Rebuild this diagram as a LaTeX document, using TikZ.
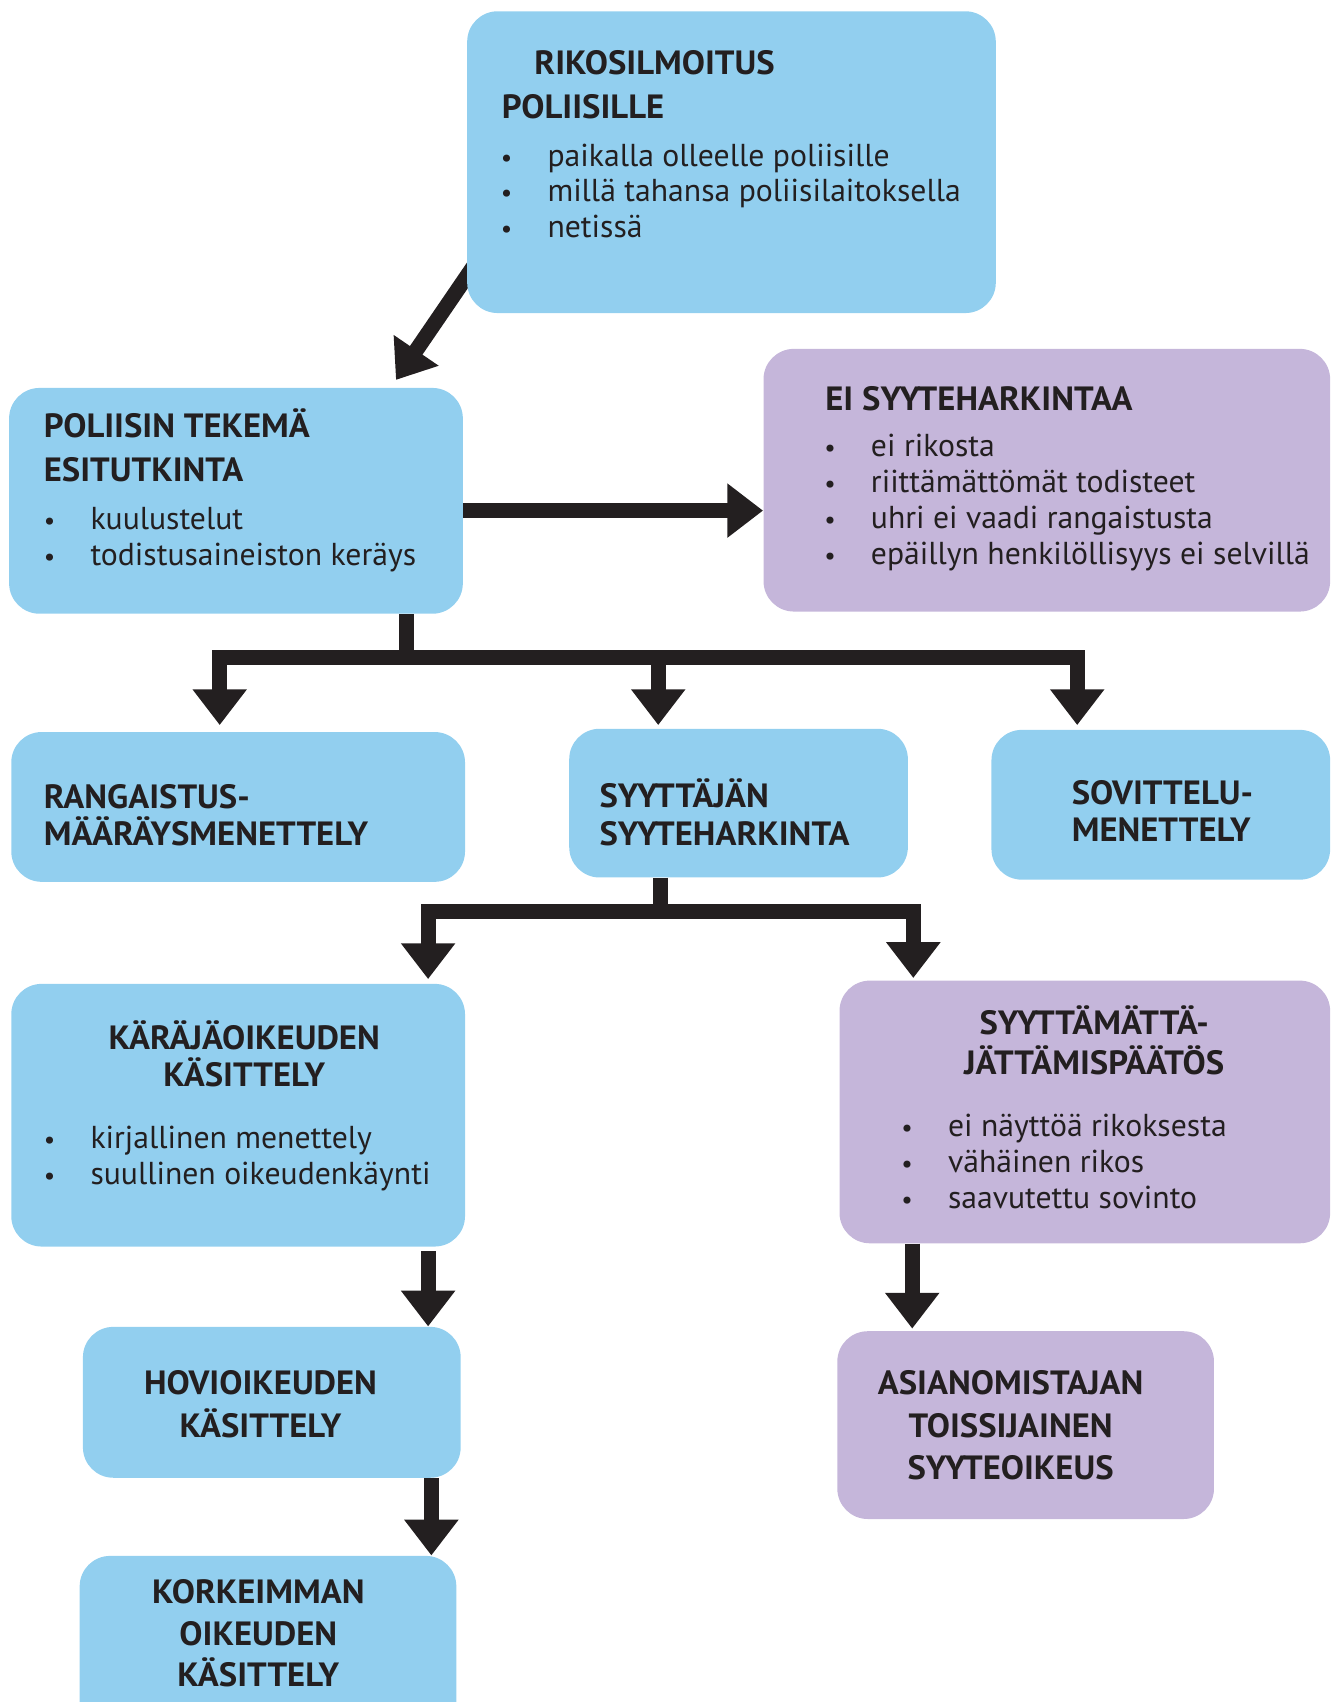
\documentclass[tikz,border=0pt]{standalone}
\usepackage{fontspec}
\setmainfont{PT Sans}
\newfontfamily\headfamily[FakeStretch=1.03]{PT Sans}
\usepackage{tikz}
\usetikzlibrary{arrows.meta,backgrounds}

\definecolor{boxblue}{HTML}{92CFEF}
\definecolor{boxlilac}{HTML}{C5B6DA}
\definecolor{inkblack}{HTML}{231F20}

\newcommand{\headfont}{\headfamily\bfseries\fontsize{15.5}{18}\selectfont}
\newcommand{\itemfont}{\fontsize{14.6}{17}\selectfont}
\newcommand{\dotitem}{\makebox[21.5pt][l]{\scalebox{0.8}{\textbullet}}}

\begin{document}
\begin{tikzpicture}[
                    x=0.5pt, y=-0.5pt,
                    blue box/.style={
                        rectangle,
                        rounded corners=14pt,
                        fill=boxblue,
                        inner sep=0pt,
                        anchor=north west
                    },
                    lilac box/.style={blue box, fill=boxlilac},
                    head/.style={font=\headfont, text=inkblack, inner sep=0pt, anchor=base west},
                    head mid/.style={head, anchor=base},
                    item/.style={font=\itemfont, text=inkblack, inner sep=0pt, anchor=base west},
                    flow/.style={draw=inkblack, line width=7pt,
                        -{Triangle[width=24pt,length=16.5pt]}}
                ]
    \useasboundingbox (0,0) rectangle (1230,1568);
    \clip (0,0) rectangle (1230,1568);

    % laatikot
    \node[blue box, minimum width=243.5pt, minimum height=139pt] (rikos) at (430,10) {};
    \node[blue box, minimum width=209pt, minimum height=104pt] (esitutk) at (8,357) {};
    \node[lilac box, minimum width=261pt, minimum height=121pt] (eisyyte) at (703,321) {};
    \node[blue box, minimum width=209pt, minimum height=69pt] (rangaistus) at (10,674) {};
    \node[blue box, minimum width=156pt, minimum height=68.5pt] (syyttajan) at (524,671) {};
    \node[blue box, minimum width=156pt, minimum height=69pt] (sovittelu) at (913,672) {};
    \node[blue box, minimum width=209pt, minimum height=121pt] (karaja) at (10,906) {};
    \node[lilac box, minimum width=226pt, minimum height=121pt] (syyttamatta) at (773,903) {};
    \node[blue box, minimum width=174pt, minimum height=69.5pt] (hovi) at (76,1222) {};
    \node[lilac box, minimum width=173.5pt, minimum height=86.5pt] (asianom) at (771,1226) {};
    \node[blue box, minimum width=173.5pt, minimum height=100pt] (korkein) at (73,1433) {};

    % tekstit
    \node[head] (rikos-t1) at (492,69) {RIKOSILMOITUS};
    \node[head] (rikos-t2) at (462,109) {POLIISILLE};
    \node[item] (rikos-i1) at (461,153) {\dotitem paikalla olleelle poliisille};
    \node[item] (rikos-i2) at (461,186) {\dotitem millä tahansa poliisilaitoksella};
    \node[item] (rikos-i3) at (461,219) {\dotitem netissä};

    \node[head] (esitutk-t1) at (40,403) {POLIISIN TEKEMÄ};
    \node[head] (esitutk-t2) at (40,444) {ESITUTKINTA};
    \node[item] (esitutk-i1) at (40,488) {\dotitem kuulustelut};
    \node[item] (esitutk-i2) at (40,521) {\dotitem todistusaineiston keräys};

    \node[head] (eisyyte-t1) at (760,378) {EI SYYTEHARKINTAA};
    \node[item] (eisyyte-i1) at (759,421) {\dotitem ei rikosta};
    \node[item] (eisyyte-i2) at (759,454) {\dotitem riittämättömät todisteet};
    \node[item] (eisyyte-i3) at (759,487) {\dotitem uhri ei vaadi rangaistusta};
    \node[item] (eisyyte-i4) at (759,520) {\dotitem epäillyn henkilöllisyys ei selvillä};

    \node[head] (rangaistus-t1) at (40,745) {RANGAISTUS-};
    \node[head] (rangaistus-t2) at (40,779) {MÄÄRÄYSMENETTELY};

    \node[head] (syyttajan-t1) at (552,744) {SYYTTÄJÄN};
    \node[head] (syyttajan-t2) at (552,779) {SYYTEHARKINTA};

    \node[head] (sovittelu-t1) at (987,741) {SOVITTELU-};
    \node[head] (sovittelu-t2) at (987,775) {MENETTELY};

    \node[head mid] (karaja-t1) at (225,967) {KÄRÄJÄOIKEUDEN};
    \node[head mid] (karaja-t2) at (225,1001) {KÄSITTELY};
    \node[item] (karaja-i1) at (40,1058) {\dotitem kirjallinen menettely};
    \node[item] (karaja-i2) at (40,1091) {\dotitem suullinen oikeudenkäynti};

    \node[head mid] (syyttamatta-t1) at (1008,953) {SYYTTÄMÄTTÄ-};
    \node[head mid] (syyttamatta-t2) at (1008,990) {JÄTTÄMISPÄÄTÖS};
    \node[item] (syyttamatta-i1) at (830,1047) {\dotitem ei näyttöä rikoksesta};
    \node[item] (syyttamatta-i2) at (830,1080) {\dotitem vähäinen rikos};
    \node[item] (syyttamatta-i3) at (830,1113) {\dotitem saavutettu sovinto};

    \node[head mid] (hovi-t1) at (240,1285) {HOVIOIKEUDEN};
    \node[head mid] (hovi-t2) at (240,1324) {KÄSITTELY};

    \node[head mid] (asianom-t1) at (931,1285) {ASIANOMISTAJAN};
    \node[head mid] (asianom-t2) at (931,1324) {TOISSIJAINEN};
    \node[head mid] (asianom-t3) at (931,1363) {SYYTEOIKEUS};

    \node[head mid] (korkein-t1) at (238,1477) {KORKEIMMAN};
    \node[head mid] (korkein-t2) at (238,1516) {OIKEUDEN};
    \node[head mid] (korkein-t3) at (238,1554) {KÄSITTELY};

    % nuolet
    \begin{scope}[on background layer]
        \draw[flow] ([shift={(9.5pt,31pt)}]rikos.south west) -- ([shift={(-31pt,3.5pt)}]esitutk.north east);
    \end{scope}
    \draw[flow] ([yshift=-4.5pt]esitutk.east) -- ([yshift=-4.5pt]esitutk.east -| eisyyte.west);

    \draw[flow] ([xshift=78.5pt]esitutk.south) -- ++(0,40) -| ([shift={(-8.5pt,3pt)}]rangaistus.north);
    \draw[flow] ([xshift=78.5pt]esitutk.south) -- ++(0,40) -| ([shift={(-37pt,1.5pt)}]syyttajan.north);
    \draw[flow] ([xshift=78.5pt]esitutk.south) -- ++(0,40) -| ([shift={(-38.5pt,2pt)}]sovittelu.north);

    \draw[flow] ([xshift=-36pt]syyttajan.south) -- ++(0,31) -| ([shift={(87.5pt,2pt)}]karaja.north);
    \draw[flow] ([xshift=-36pt]syyttajan.south) -- ++(0,31) -| ([shift={(-79pt,1pt)}]syyttamatta.north);

    \draw[flow] ([shift={(87.5pt,-2pt)}]karaja.south) -- ([xshift=72pt]hovi.north);
    \draw[flow] ([xshift=73.5pt]hovi.south) -- ([xshift=75.25pt]korkein.north);
    \draw[flow] ([xshift=-79.5pt]syyttamatta.south) -- ([shift={(-52.25pt,1pt)}]asianom.north);
\end{tikzpicture}
\end{document}
